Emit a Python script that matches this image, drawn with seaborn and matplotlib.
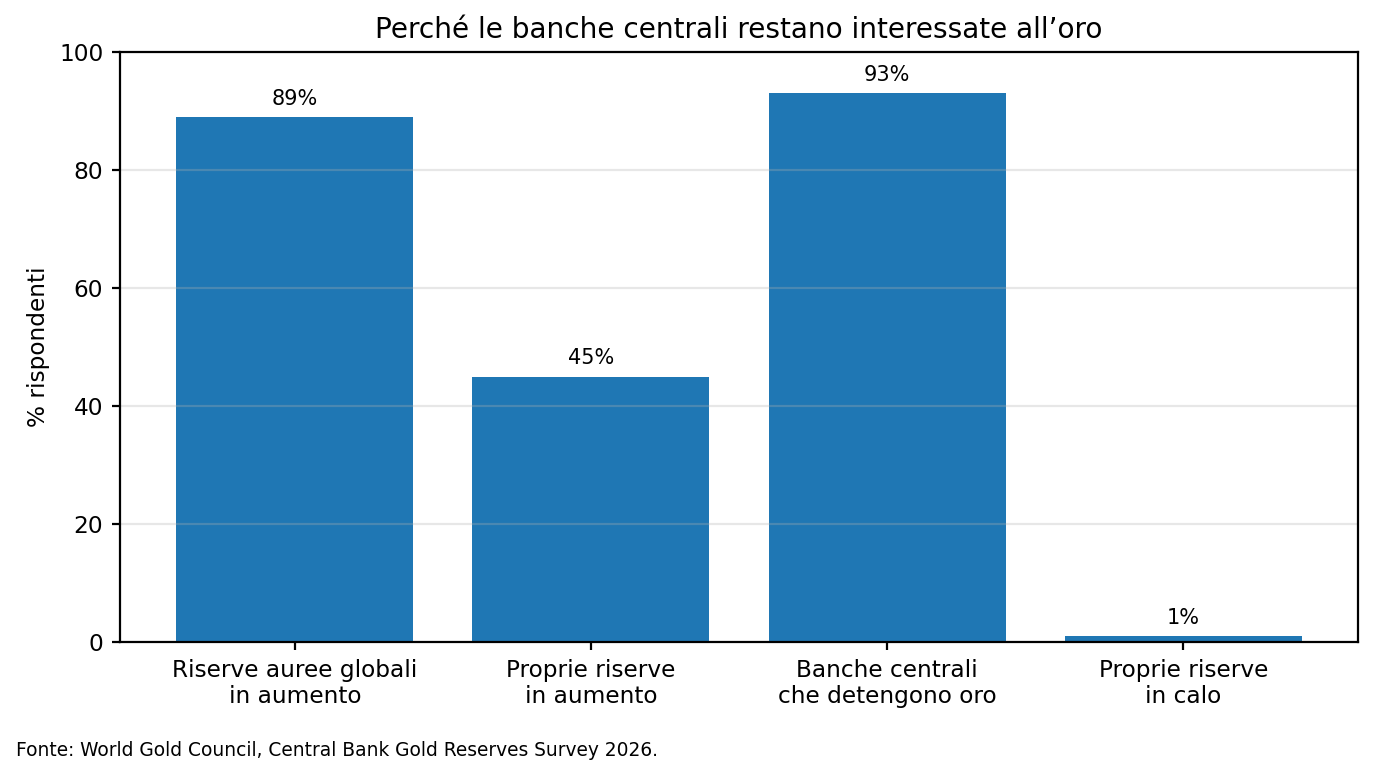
import matplotlib
matplotlib.use("Agg")
import matplotlib.pyplot as plt
import seaborn as sns
import pandas as pd

categories = ["Riserve auree globali\nin aumento", "Proprie riserve\nin aumento",
              "Banche centrali\nche detengono oro", "Proprie riserve\nin calo"]
values = [89, 45, 93, 1]

df = pd.DataFrame({"cat": categories, "val": values})

fig = plt.figure(figsize=(6.875, 3.895), dpi=200)
ax = fig.add_axes([0.0873, 0.1759, 0.9003, 0.7573])
sns.barplot(data=df, x="cat", y="val", color="#1f77b4", saturation=1, width=0.8, ax=ax)
ax.set_xlim(-0.59, 3.59)
ax.set_ylim(0, 100)
ax.set_xlabel("")
ax.set_ylabel("% rispondenti", fontsize=8.4, labelpad=3.4)
ax.set_title("Perché le banche centrali restano interessate all’oro", fontsize=10.1, pad=5)
ax.yaxis.grid(True, alpha=0.3)
ax.set_axisbelow("line")
ax.tick_params(labelsize=8.4, length=3, pad=3)
for c in ax.containers:
    ax.bar_label(c, labels=[f"{v}%" for v in values], padding=3, fontsize=7.5)
fig.text(0.012, 0.03, "Fonte: World Gold Council, Central Bank Gold Reserves Survey 2026.", fontsize=6.7)
fig.savefig("out.png", dpi=200)
